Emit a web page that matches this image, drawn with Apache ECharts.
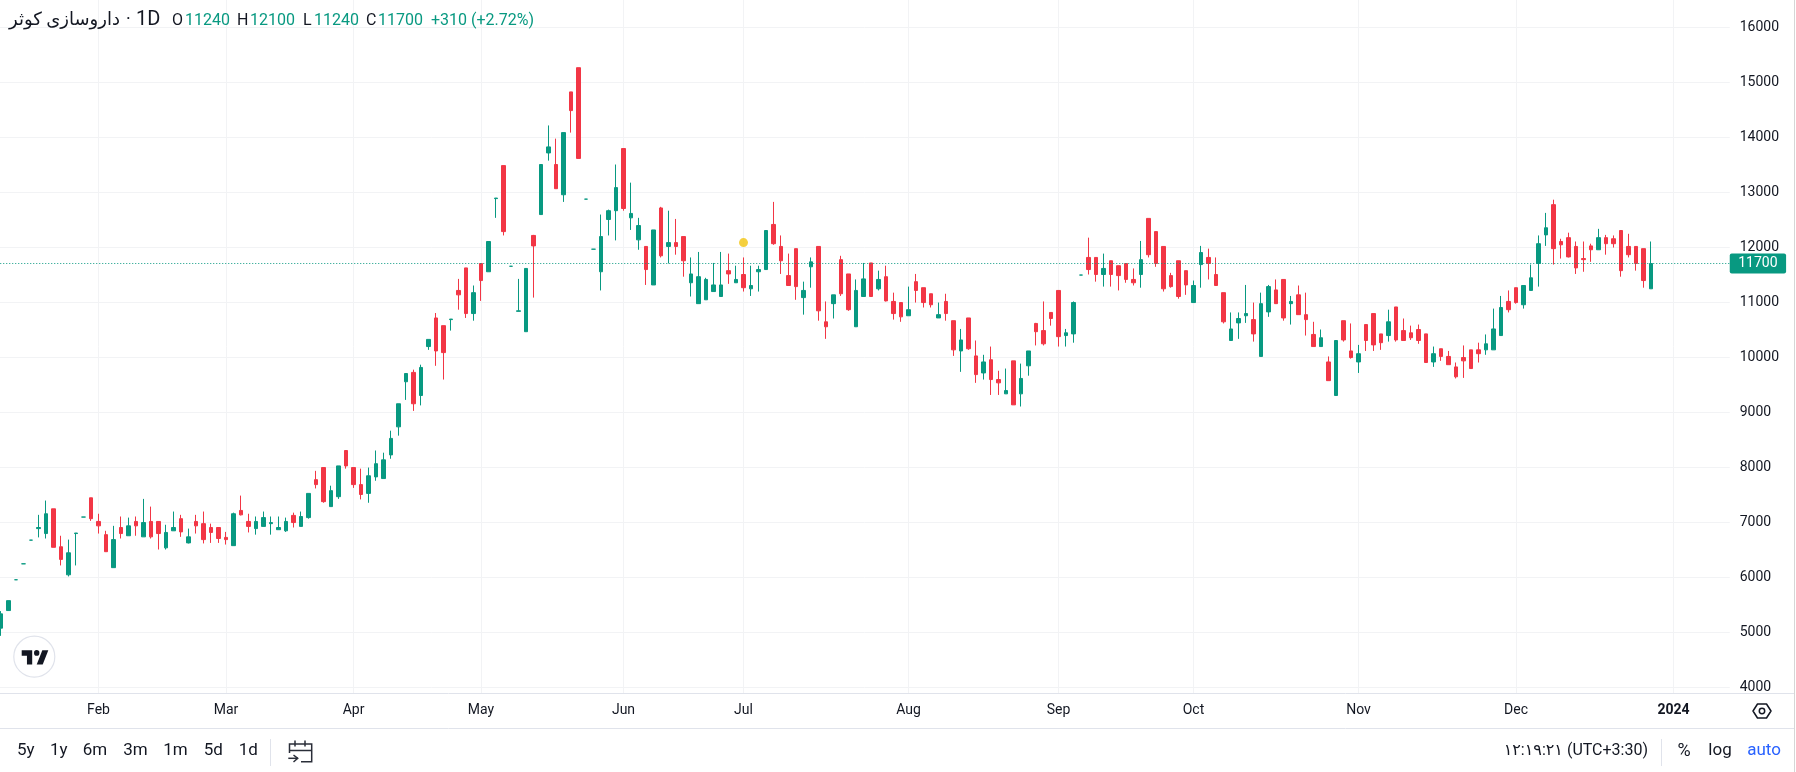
<!DOCTYPE html>
<html>
<head>
<meta charset="utf-8">
<title>داروسازی کوثر</title>
<style>
  html, body { margin: 0; padding: 0; background: #fff; }
  #main { width: 1796px; height: 772px; }
</style>
<script src="https://cdn.jsdelivr.net/npm/echarts@6/dist/echarts.min.js"></script>
</head>
<body>
<div id="main"></div>
<script>
// daily candles
var opens = [
  5070,5390,5950,6240,6670,6880,6790,7240,6550,6040,
  6790,7090,7440,7010,6770,6170,6900,6750,7010,6730,
  7010,7010,6530,6840,7060,6620,7010,6970,6900,6900,
  6720,6570,7210,7010,6880,6920,6970,6860,6840,7120,
  6920,7080,7770,7990,7280,7460,8300,7990,7680,7520,
  7820,7790,8220,8730,9550,9720,9300,10190,10710,10570,
  10680,11210,11620,10790,11700,11550,12880,13480,11650,10830,
  10460,12210,12590,13710,13500,12950,14820,15260,12870,11960,
  11550,12500,12660,13790,12530,12130,12010,11310,12710,12010,
  12080,12190,11350,10970,11040,11190,11100,11570,11350,11500,
  11240,11550,11590,12410,12010,11480,11970,11080,11640,12010,
  10640,10970,11770,11510,10550,11100,11710,11240,11460,11010,
  10990,10750,11370,11260,11150,10710,11010,10660,10110,10710,
  10020,9710,9950,9590,9330,9930,9330,9840,10610,10480,
  10810,11210,10390,10420,11490,11810,11810,11500,11750,11660,
  11700,11410,11500,12520,12280,12010,11480,11750,11570,10990,
  11680,11810,11500,11170,10300,10620,10750,10680,10010,10820,
  11220,11410,10970,11130,10770,10410,10190,9910,9300,10660,
  10110,9910,10590,10790,10420,10390,10910,10480,10440,10500,
  10420,9910,10150,10010,9820,9990,10130,10130,10130,10130,
  10390,11010,11260,10950,11210,11700,12220,12770,12100,12170,
  12010,11790,12020,11950,12170,12150,12300,12010,12010,11970,
  11240
];
var closes = [
  5330,5570,5950,6240,6670,6900,7150,6540,6320,6440,
  6800,7090,7060,6930,6460,6680,6790,6930,6930,6990,
  6730,6790,6810,6900,6820,6730,6930,6680,6810,6700,
  6680,7150,7130,6920,7010,7080,6990,6900,7010,6990,
  7100,7520,7680,7370,7570,8020,8020,7680,7500,7840,
  8060,8130,8520,9150,9700,9150,9810,10320,10110,10080,
  10690,11130,10790,11170,11390,12100,12890,12280,11650,10840,
  11610,12020,13500,13820,13060,14080,14480,13610,12870,11960,
  12190,12660,13080,12700,12610,12390,11590,12310,11840,12080,
  12010,11750,11510,11460,11410,11310,11310,11510,11410,11260,
  11300,11590,12300,12060,11750,11300,11280,11210,11730,10840,
  10550,11130,11150,10860,11210,11420,11100,11410,11020,10790,
  10730,10860,11210,10990,10950,10770,10790,10130,10310,10150,
  9680,9910,9590,9530,9390,9130,9610,10110,10460,10240,
  10700,10370,10440,10990,11490,11590,11500,11610,11500,11480,
  11410,11350,11770,11860,11700,11240,11280,11100,11310,11300,
  11900,11700,11300,10640,10510,10700,10790,10420,10970,11280,
  10970,10710,11010,10770,10680,10190,10350,9570,10300,10310,
  9990,10060,10300,10220,10260,10640,10310,10300,10350,10300,
  9900,10060,10010,9860,9640,9930,9790,10060,10240,10510,
  10900,10860,10990,11300,11440,12060,12350,11970,12040,11820,
  11620,11770,11950,12170,12060,12060,11570,11860,11700,11390,
  11700
];
var lows = [
  4930,5390,5950,6240,6670,6720,6700,6540,6210,6010,
  6210,7090,7020,6790,6460,6170,6700,6750,6750,6730,
  6700,6500,6500,6840,6730,6610,6790,6610,6620,6620,
  6590,6570,7120,6810,6770,6920,6770,6860,6820,6900,
  6920,7060,7610,7350,7280,7420,7970,7620,7410,7350,
  7750,7790,8150,8570,9220,9020,9120,10130,9840,9590,
  10480,10860,10710,10660,11020,11550,12530,12210,11650,10830,
  10460,11080,12590,13570,13060,12820,14080,13610,12870,11960,
  11210,12210,12120,12660,12310,11950,11310,11310,11810,11700,
  11860,11460,11100,10970,11040,11190,11100,11330,11350,11190,
  11110,11190,11590,12040,11510,11300,11040,10770,11260,10660,
  10330,10700,11110,10840,10550,11100,11100,11210,11010,10680,
  10640,10750,10990,10900,10900,10710,10660,10020,9730,10130,
  9530,9590,9310,9310,9330,9130,9100,9660,10210,10210,
  10570,10190,10190,10260,11490,11500,11370,11280,11280,11210,
  11350,11300,11260,11810,11640,11190,11260,11060,11130,10990,
  11260,11410,11300,10610,10300,10330,10620,10280,10010,10730,
  10970,10660,10590,10770,10390,10190,10190,9570,9300,10280,
  9970,9710,10110,10110,10130,10280,10280,10300,10310,10240,
  9900,9820,9930,9860,9610,9620,9790,9900,10040,10130,
  10390,10810,10970,10880,11210,11280,12020,11680,11790,11810,
  11510,11550,11730,11950,11860,11990,11460,11810,11570,11260,
  11240
];
var highs = [
  5380,5570,5950,6240,6670,7130,7390,7240,6750,6680,
  6800,7090,7440,7150,6840,6930,7100,7080,7100,7420,
  7280,7010,6950,7190,7130,6880,7130,7190,6970,6900,
  6820,7170,7480,7150,7100,7190,7100,7100,7080,7170,
  7190,7520,7930,7990,7660,8020,8300,7990,7970,7990,
  8300,8260,8660,9150,9700,9770,9860,10320,10800,10570,
  10690,11420,11620,11300,11700,12100,12890,13480,11650,11420,
  11610,12220,13500,14210,13970,14080,14820,15260,12870,11960,
  12590,12680,13500,13790,13170,12530,12010,12310,12730,12660,
  12510,12190,11810,11910,11440,11710,11910,11880,11660,11810,
  11660,11660,12300,12820,12210,11880,11970,11370,11810,12010,
  11010,11130,11840,11510,11410,11710,11710,11570,11660,11170,
  10990,11280,11510,11260,11150,10990,11150,10660,10510,10710,
  10300,10040,10190,9750,9790,9930,9880,10110,10620,11010,
  10810,11210,10510,11010,11490,12170,11810,11880,11750,11660,
  11700,11610,12110,12520,12280,12010,11530,11750,11570,11390,
  12020,11970,11810,11170,10810,10810,11310,10990,11170,11310,
  11410,11410,11110,11300,11170,10640,10500,10010,10300,10660,
  10610,10220,10590,10790,10420,10860,10910,10700,10570,10590,
  10420,10190,10150,10110,9900,10210,10130,10260,10410,10880,
  11110,11210,11260,11300,11680,12210,12620,12860,12150,12260,
  12100,12100,12060,12330,12220,12210,12300,12240,12010,11970,
  12100
];
var lastPrice = 11700;
var dividendBar = 99;
var dividendPrice = 12080;

// time scale: bar number of each month tick
var monthBars = [13, 30, 47, 64, 83, 99, 121, 141, 159, 181, 202, 223];
var monthNames = ["Feb", "Mar", "Apr", "May", "Jun", "Jul", "Aug", "Sep", "Oct", "Nov", "Dec", "2024"];
var barCount = 231;

var rangeLabels = ["5y", "1y", "6m", "3m", "1m", "5d", "1d"];
var rangeCentres = [25.8, 58.8, 95, 135.5, 175.5, 213.3, 248.2];

var UP = "#089981";
var DOWN = "#f23645";
var GRID_LINE = "#f2f3f5";
var BORDER = "#e0e3eb";
var TEXT = "#131722";
var FONT = "Roboto, 'DejaVu Sans', sans-serif";

var categories = [];
for (var i = 0; i < barCount; i++) categories.push(String(i));
var candles = opens.map(function (o, i) {
  return [o, closes[i], lows[i], highs[i]];
});

function label(text, x, y, size, fill, align, weight) {
  return {
    type: "text", x: x, y: y, silent: true, z: 20,
    style: {
      text: text, fill: fill, textAlign: align || "left", textVerticalAlign: "middle",
      font: (weight || "normal") + " " + size + "px " + FONT
    }
  };
}
function rule(x1, y1, x2, y2, color, width) {
  return {
    type: "line", silent: true, z: 19,
    shape: { x1: x1, y1: y1, x2: x2, y2: y2 },
    style: { stroke: color, lineWidth: width || 1 }
  };
}
function stroked(points) {
  return {
    type: "polyline", silent: true, z: 20,
    shape: { points: points },
    style: { stroke: "#2a2e39", lineWidth: 1.5, fill: null }
  };
}

var graphics = [
  // separators
  rule(0, 693.5, 1794, 693.5, BORDER),
  rule(0, 728.5, 1794, 728.5, BORDER),
  rule(1794.5, 0, 1794.5, 772, "#d6d6d6"),
  rule(270.5, 739, 270.5, 766, BORDER),
  rule(1661.5, 739, 1661.5, 766, BORDER),
  // legend line
  label("داروسازی کوثر", 9, 20, 18, TEXT),
  label("·", 126, 20, 18, TEXT),
  label("1D", 136, 20, 20, TEXT),
  label("O", 172, 20.5, 16, TEXT), label("11240", 185, 20.5, 16, UP),
  label("H", 237, 20.5, 16, TEXT), label("12100", 250, 20.5, 16, UP),
  label("L", 303, 20.5, 16, TEXT), label("11240", 314, 20.5, 16, UP),
  label("C", 366, 20.5, 16, TEXT), label("11700", 378, 20.5, 16, UP),
  label("+310 (+2.72%)", 431, 20.5, 16, UP),
  // bottom bar, right side
  label("۱۲:۱۹:۲۱ (UTC+3:30)", 1648, 751, 16, TEXT, "right"),
  label("%", 1684, 751, 18, TEXT, "center"),
  label("log", 1720, 751, 17, TEXT, "center"),
  label("auto", 1764, 751, 17, "#2962ff", "center"),
  // calendar icon
  stroked([[301, 761.7], [311.7, 761.7], [311.7, 744], [289.5, 744], [289.5, 753]]),
  stroked([[289.5, 750.5], [311.7, 750.5]]),
  stroked([[295, 740.5], [295, 746.5]]),
  stroked([[305, 740.5], [305, 746.5]]),
  stroked([[288.3, 758.3], [298, 758.3]]),
  stroked([[293.5, 755], [297.7, 758.3], [293.5, 762]]),
  // settings hexagon
  {
    type: "polygon", silent: true, z: 20,
    shape: { points: [[1753, 711], [1757.5, 704], [1766.5, 704], [1771, 711], [1766.5, 718], [1757.5, 718]] },
    style: { stroke: TEXT, lineWidth: 1.5, fill: null, lineJoin: "round" }
  },
  {
    type: "circle", silent: true, z: 20,
    shape: { cx: 1762, cy: 711, r: 2.7 },
    style: { stroke: TEXT, lineWidth: 1.5, fill: null }
  },
  // logo badge
  {
    type: "circle", silent: true, z: 20,
    shape: { cx: 34.3, cy: 656.7, r: 20.5 },
    style: { stroke: BORDER, lineWidth: 1.2, fill: "#fff" }
  },
  {
    type: "group", x: 21.7, y: 647, scaleX: 0.75, scaleY: 0.795, silent: true, z: 21,
    children: [
      { type: "polygon", z: 21, shape: { points: [[0, 4], [14, 4], [14, 22], [7, 22], [7, 11], [0, 11]] }, style: { fill: TEXT } },
      { type: "polygon", z: 21, shape: { points: [[20, 22], [28, 22], [35.5, 4], [27.5, 4]] }, style: { fill: TEXT } },
      { type: "circle", z: 21, shape: { cx: 20, cy: 7.5, r: 3.6 }, style: { fill: TEXT } }
    ]
  }
];
rangeLabels.forEach(function (t, i) {
  graphics.push(label(t, rangeCentres[i], 751, 17, TEXT, "center"));
});

var myChart = echarts.init(document.getElementById("main"));
myChart.setOption({
  animation: false,
  backgroundColor: "#fff",
  graphic: graphics,
  grid: [
    { left: -2.75, top: 27, width: 1732.5, height: 660, outerBoundsMode: "none" },
    // same bars, full pane height: month lines and labels
    { left: 1, top: 0, width: 1725, height: 693, outerBoundsMode: "none" }
  ],
  xAxis: [
    { type: "category", gridIndex: 0, data: categories, show: false },
    {
      type: "category", gridIndex: 1, data: categories, boundaryGap: false,
      axisLine: { show: false },
      axisTick: { show: false },
      axisLabel: {
        interval: 0,
        margin: 10,
        hideOverlap: false,
        fontFamily: "Roboto",
        fontSize: 14,
        color: TEXT,
        formatter: function (value) {
          var k = monthBars.indexOf(Number(value));
          if (k < 0) return "";
          return monthNames[k] === "2024" ? "{b|2024}" : monthNames[k];
        },
        rich: { b: { fontFamily: "Roboto", fontSize: 14, fontWeight: "bold", color: TEXT } }
      },
      splitLine: {
        show: true,
        interval: function (index) { return monthBars.indexOf(index) >= 0; },
        lineStyle: { color: GRID_LINE, width: 1 }
      }
    }
  ],
  yAxis: [
    {
      type: "value", gridIndex: 0, position: "right",
      min: 4000, max: 16000, interval: 1000,
      axisLine: { show: false },
      axisTick: { show: false },
      axisLabel: {
        margin: 10, fontFamily: "Roboto", fontSize: 14, color: TEXT,
        formatter: function (v) { return String(v); }
      },
      splitLine: { lineStyle: { color: GRID_LINE, width: 1 } }
    },
    { type: "value", gridIndex: 1, show: false, min: 0, max: 1, splitLine: { show: false } }
  ],
  series: [
    {
      type: "candlestick",
      xAxisIndex: 0,
      yAxisIndex: 0,
      barWidth: 4,
      clip: false,
      data: candles,
      itemStyle: {
        color: UP, color0: DOWN,
        borderColor: UP, borderColor0: DOWN, borderColorDoji: UP,
        borderWidth: 1
      },
      markLine: {
        silent: true,
        symbol: "none",
        animation: false,
        lineStyle: { color: UP, type: [1, 2], width: 1 },
        label: {
          position: "end",
          distance: 0,
          formatter: String(lastPrice),
          backgroundColor: UP,
          color: "#fff",
          fontFamily: "Roboto",
          fontSize: 14,
          padding: [3, 8.5, 3, 8.5],
          borderRadius: 2
        },
        data: [{ yAxis: lastPrice }]
      }
    },
    {
      type: "scatter",
      xAxisIndex: 0,
      yAxisIndex: 0,
      symbolSize: 9,
      silent: true,
      itemStyle: { color: "#f2c40f" },
      data: [[dividendBar, dividendPrice]]
    }
  ]
});
window.addEventListener("resize", function () {
  myChart.resize();
});
</script>
</body>
</html>
